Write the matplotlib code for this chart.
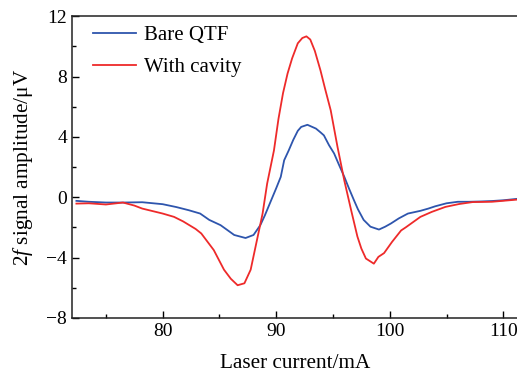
import matplotlib
matplotlib.use("Agg")
import matplotlib.pyplot as plt

plt.rcParams["font.family"] = ["Liberation Serif", "DejaVu Serif"]
plt.rcParams["mathtext.fontset"] = "custom"
plt.rcParams["mathtext.rm"] = "Liberation Serif"
plt.rcParams["mathtext.it"] = "Liberation Serif:italic"

# Bare QTF (blue)
bare_x = [72.4, 73.5, 75.0, 76.5, 78.2, 80.0, 81.2, 82.3, 83.3, 84.1, 85.1, 86.3, 87.3,
          88.0, 88.6, 89.0, 89.5, 90.0, 90.4, 90.7, 91.1, 91.5, 91.9, 92.2, 92.75, 93.5,
          93.9, 94.2, 94.65, 95.1, 95.5, 96.0, 96.4, 96.85, 97.2, 97.7, 98.3, 99.05,
          99.6, 100.1, 100.8, 101.6, 102.7, 103.4, 104.0, 105.0, 106.0, 107.0, 108.0,
          109.0, 110.0, 111.3]
bare_y = [-0.24, -0.3, -0.35, -0.35, -0.33, -0.46, -0.65, -0.86, -1.08, -1.5, -1.85, -2.5, -2.7,
          -2.5, -1.85, -1.2, -0.3, 0.6, 1.35, 2.45, 3.1, 3.8, 4.4, 4.66, 4.8, 4.55,
          4.3, 4.1, 3.45, 2.9, 2.2, 1.35, 0.6, -0.2, -0.8, -1.5, -1.95, -2.14,
          -1.95, -1.74, -1.4, -1.08, -0.9, -0.75, -0.6, -0.4, -0.3, -0.3, -0.28,
          -0.25, -0.2, -0.1]

# With cavity (red)
cavity_x = [72.4, 73.5, 75.0, 76.5, 77.5, 78.2, 80.0, 81.0, 81.8, 82.9, 83.4, 84.5, 85.4,
            86.0, 86.6, 87.2, 87.75, 88.3, 88.8, 89.2, 89.5, 89.8, 90.2, 90.6, 91.0, 91.4,
            91.9, 92.3, 92.66, 93.0, 93.4, 93.9, 94.3, 94.8, 95.4, 96.0, 96.6, 97.15,
            97.5, 97.9, 98.6, 99.0, 99.5, 100.2, 101.0, 101.4, 102.7, 103.7, 104.9,
            106.1, 107.3, 109.0, 111.3]
cavity_y = [-0.42, -0.4, -0.48, -0.35, -0.55, -0.75, -1.08, -1.3, -1.6, -2.1, -2.4, -3.5, -4.8,
            -5.4, -5.83, -5.7, -4.8, -2.85, -1.08, 0.9, 2.0, 3.1, 5.2, 6.9, 8.2, 9.2,
            10.2, 10.55, 10.66, 10.45, 9.7, 8.4, 7.2, 5.76, 3.33, 1.1, -0.86, -2.6,
            -3.4, -4.06, -4.4, -3.95, -3.7, -2.96, -2.2, -2.0, -1.3, -0.97, -0.64,
            -0.45, -0.32, -0.3, -0.15]

x_ticks = [80, 90, 100, 110]
y_ticks = [-8, -4, 0, 4, 8, 12]

fig = plt.figure(figsize=(5.17, 3.75), dpi=100)
ax = fig.add_axes([0.139, 0.152, 0.863, 0.805])

ax.plot(bare_x, bare_y, color="#2e55ad", lw=1.3, label="Bare QTF")
ax.plot(cavity_x, cavity_y, color="#ee2a2a", lw=1.3, label="With cavity")

ax.set_xlim(72, 111.3)
ax.set_ylim(-8, 12)
ax.set_xticks(x_ticks)
ax.set_yticks(y_ticks)
ax.set_xticks([75, 85, 95, 105], minor=True)
ax.set_yticks([-6, -2, 2, 6, 10], minor=True)
ax.tick_params(which="both", direction="in", labelsize=14, width=1.0, top=False, right=False)
ax.tick_params(which="major", length=5)
ax.tick_params(which="minor", length=3)
ax.spines["right"].set_visible(False)
for side in ["left", "bottom", "top"]:
    ax.spines[side].set_linewidth(1.1)
    ax.spines[side].set_color("#222222")

ax.set_xlabel("Laser current/mA", fontsize=15.3, labelpad=10)
ax.set_ylabel("2$f$ signal amplitude/μV", fontsize=15.3, labelpad=8)

ax.legend(loc="upper left", bbox_to_anchor=(0.028, 0.997), frameon=False, fontsize=15,
          handlelength=2.1, handletextpad=0.38, labelspacing=0.6, borderaxespad=0)

fig.savefig("out.png", dpi=100)
